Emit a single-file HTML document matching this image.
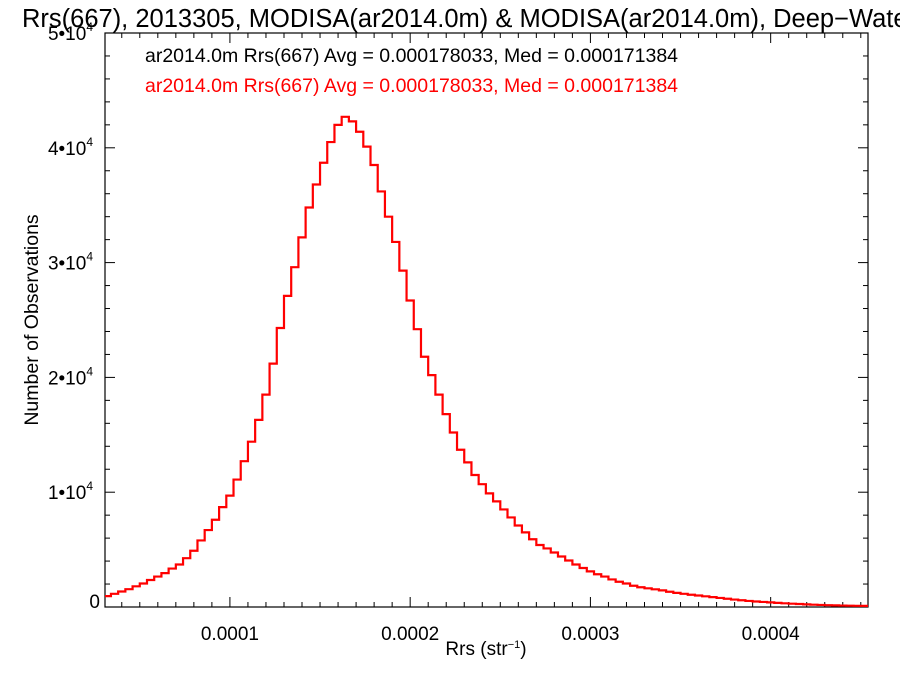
<!DOCTYPE html>
<html><head><meta charset="utf-8"><style>
body{margin:0;background:#fff;overflow:hidden;}
svg text{font-family:"Liberation Sans",sans-serif;}
</style></head><body>
<svg id="chart" width="900" height="675" xmlns="http://www.w3.org/2000/svg">
<text x="22" y="27" font-size="25.5" fill="#000">Rrs(667), 2013305, MODISA(ar2014.0m) &amp; MODISA(ar2014.0m), Deep−Water</text>
<text x="145" y="62" font-size="19.5" fill="#000">ar2014.0m Rrs(667) Avg = 0.000178033, Med = 0.000171384</text>
<text x="145" y="92" font-size="19.5" fill="#ff0000">ar2014.0m Rrs(667) Avg = 0.000178033, Med = 0.000171384</text>
<text transform="translate(38,320) rotate(-90)" text-anchor="middle" font-size="19.5">Number of Observations</text>
<text x="486" y="655" text-anchor="middle" font-size="19">Rrs (str<tspan font-size="11" dy="-7">−1</tspan><tspan dy="7">)</tspan></text>
<g id="axes"></g>
<g id="series"></g>
</svg>
<script>
const binStart = 0.000030;
const binWidth = 0.000004;
const counts = [950,1150,1350,1550,1800,2050,2350,2650,2950,3350,3700,4250,4900,5800,6700,7600,8700,9700,11100,12700,14400,16300,18500,21200,24300,27100,29600,32200,34800,36800,38700,40500,42000,42700,42300,41400,40100,38500,36200,34000,31800,29300,26700,24200,21800,20200,18500,16800,15200,13700,12600,11500,10700,9900,9200,8500,7800,7100,6500,5900,5400,5100,4750,4400,4050,3700,3400,3100,2850,2650,2400,2200,2050,1850,1720,1630,1540,1450,1330,1230,1150,1070,1000,930,860,790,720,650,590,530,480,440,400,360,320,290,260,230,200,180,160,140,125,115,105,100];
const xTicks = [0.0001,0.0002,0.0003,0.0004];
const xTickLabels = ["0.0001","0.0002","0.0003","0.0004"];
const yTicks = [0,10000,20000,30000,40000,50000];
const yTickMant = ["0","1","2","3","4","5"];

const L=105,R=868,T=33,B=607;
const xMin=0.0000307,xMax=0.000454,yMin=0,yMax=50000;
const X=v=>L+(v-xMin)/(xMax-xMin)*(R-L);
const Y=v=>B-(v-yMin)/(yMax-yMin)*(B-T);
const NS="http://www.w3.org/2000/svg";
const axes=document.getElementById('axes');
function mk(tag,attrs,parent){const e=document.createElementNS(NS,tag);for(const k in attrs)e.setAttribute(k,attrs[k]);parent.appendChild(e);return e;}

const frame=mk('rect',{x:L,y:T,width:R-L,height:B-T,fill:'none',stroke:'#000','stroke-width':1.2},axes);



for(let i=3;i<=45;i++){
  const v=i*0.00001; if(v<xMin||v>xMax) continue;
  const x=X(v); const major=(i%10===0); const len=major?10:5;
  const t1=mk('line',{x1:x,y1:B,x2:x,y2:B-len,stroke:'#000','stroke-width':1},axes);
  
  
  const t2=mk('line',{x1:x,y1:T,x2:x,y2:T+len,stroke:'#000','stroke-width':1},axes);
  
  
}
xTicks.forEach((v,i)=>{
  const t=mk('text',{x:X(v),y:640,'text-anchor':'middle','font-size':19},axes);
  t.textContent=xTickLabels[i];
  
  
});
for(let v=0;v<=50000;v+=2000){
  const y=Y(v); const major=(v%10000===0); const len=major?10:5;
  const a=mk('line',{x1:L,y1:y,x2:L+len,y2:y,stroke:'#000','stroke-width':1},axes);
  
  
  const b=mk('line',{x1:R,y1:y,x2:R-len,y2:y,stroke:'#000','stroke-width':1},axes);
  
  
}
yTicks.forEach((v,i)=>{
  const t=mk('text',{x:i===0?100:93,y:Y(v)+(i===0?1:7),'text-anchor':'end','font-size':19},axes);
  
  
  if(i===0){t.textContent='0';}
  else{
    t.textContent=yTickMant[i]+'•10';
    const s=mk('tspan',{'font-size':12,dy:-9},t); s.textContent='4';
  }
});

const clip=mk('clipPath',{id:'pc'},document.getElementById('chart'));
mk('rect',{x:L,y:T,width:R-L,height:B-T},clip);
let d='';
counts.forEach((c,i)=>{
  const x0=X(binStart+i*binWidth),x1=X(binStart+(i+1)*binWidth),y=Y(c);
  d+=(i===0?'M'+x0+','+y:'L'+x0+','+y)+'L'+x1+','+y;
});
const ser=document.getElementById('series');
const p2=mk('path',{d:d,fill:'none',stroke:'#ff0000','stroke-width':2.2,'clip-path':'url(#pc)'},ser);


</script>
</body></html>
